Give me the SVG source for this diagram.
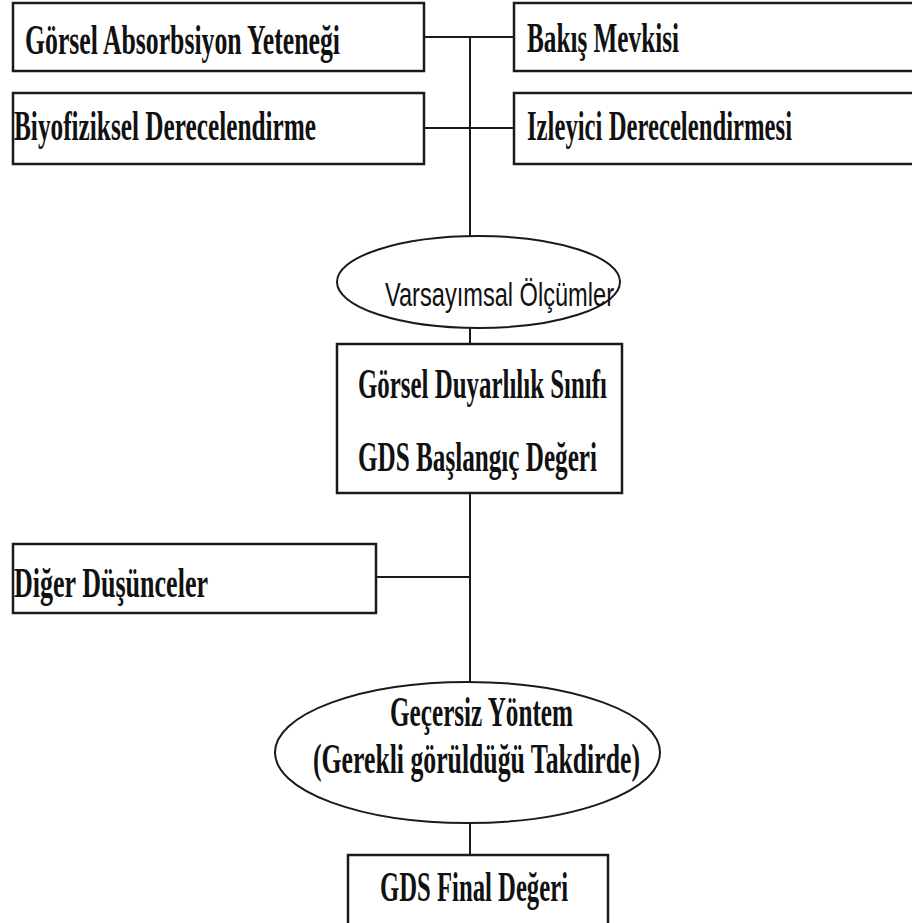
<svg xmlns="http://www.w3.org/2000/svg" width="912" height="923" viewBox="0 0 912 923">
<style>
.box{fill:#fff;stroke:#1a1a1a;stroke-width:2.5}
.ell{fill:#fff;stroke:#1a1a1a;stroke-width:2}
.ln{stroke:#1a1a1a;stroke-width:2;fill:none}
.t{font-family:"Liberation Serif","Times New Roman",serif;font-weight:bold;font-size:43px;fill:#111}
.s{font-family:"Liberation Sans",Arial,sans-serif;font-size:33px;fill:#111}
</style>
<rect width="912" height="923" fill="#fff"/>
<g id="connectors">
<line class="ln" x1="424" y1="37" x2="514" y2="37"/>
<line class="ln" x1="424" y1="128" x2="514" y2="128"/>
<line class="ln" x1="470" y1="37" x2="470" y2="236"/>
<line class="ln" x1="470" y1="328" x2="470" y2="344"/>
<line class="ln" x1="470" y1="493" x2="470" y2="682"/>
<line class="ln" x1="376" y1="577" x2="470" y2="577"/>
<line class="ln" x1="470" y1="823" x2="470" y2="855"/>
</g>
<g id="n1">
<rect class="box" x="13" y="3" width="411" height="68"/>
<text class="t" x="25" y="54" textLength="315" lengthAdjust="spacingAndGlyphs">Görsel Absorbsiyon Yeteneği</text>
</g>
<g id="n2">
<rect class="box" x="514" y="3" width="400" height="68"/>
<text class="t" x="527" y="52" textLength="152" lengthAdjust="spacingAndGlyphs">Bakış Mevkisi</text>
</g>
<g id="n3">
<rect class="box" x="13" y="93" width="411" height="71"/>
<text class="t" x="14" y="140" textLength="302" lengthAdjust="spacingAndGlyphs">Biyofiziksel Derecelendirme</text>
</g>
<g id="n4">
<rect class="box" x="514" y="93" width="400" height="71"/>
<text class="t" x="527" y="140" textLength="265" lengthAdjust="spacingAndGlyphs">Izleyici Derecelendirmesi</text>
</g>
<g id="n5">
<ellipse class="ell" cx="478.5" cy="282" rx="141.5" ry="46"/>
<text class="s" x="385" y="306" textLength="229" lengthAdjust="spacingAndGlyphs">Varsayımsal Ölçümler</text>
</g>
<g id="n6">
<rect class="box" x="337" y="344" width="285" height="149"/>
<text class="t" x="358" y="398" textLength="249" lengthAdjust="spacingAndGlyphs">Görsel Duyarlılık Sınıfı</text>
<text class="t" x="358" y="471" textLength="239" lengthAdjust="spacingAndGlyphs">GDS Başlangıç Değeri</text>
</g>
<g id="n7">
<rect class="box" x="13" y="544" width="363" height="69"/>
<text class="t" x="14" y="597" textLength="194" lengthAdjust="spacingAndGlyphs">Diğer Düşünceler</text>
</g>
<g id="n8">
<ellipse class="ell" cx="467.5" cy="752.5" rx="192.5" ry="70.5"/>
<text class="t" x="390" y="726" textLength="183" lengthAdjust="spacingAndGlyphs">Geçersiz  Yöntem</text>
<text class="t" x="313" y="773" textLength="327" lengthAdjust="spacingAndGlyphs">(Gerekli görüldüğü Takdirde)</text>
</g>
<g id="n9">
<rect class="box" x="348" y="855" width="260" height="80"/>
<text class="t" x="380" y="901" textLength="188" lengthAdjust="spacingAndGlyphs">GDS Final Değeri</text>
</g>
</svg>
